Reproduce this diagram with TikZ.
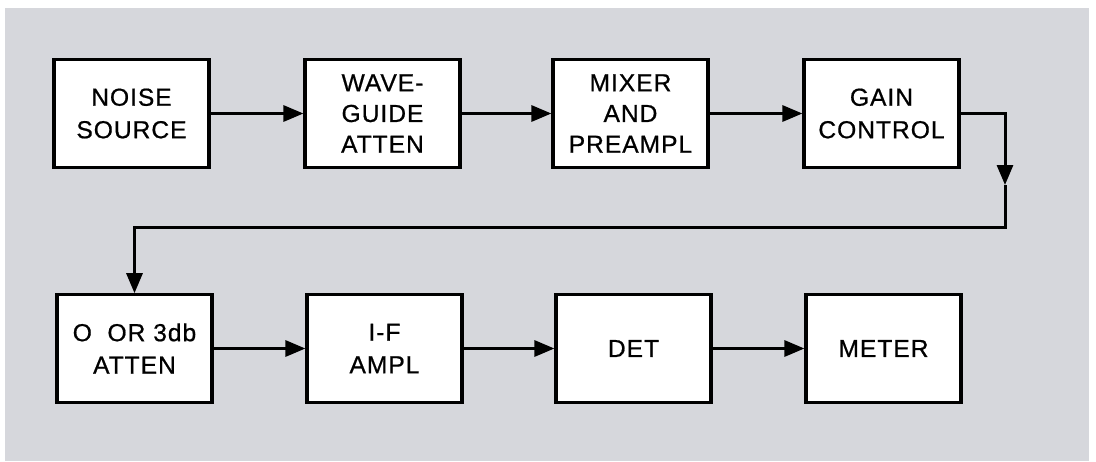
\documentclass[tikz,border=0pt]{standalone}
\usepackage{fontspec}
\setmainfont{Liberation Sans}
\newfontfamily\labelfont{Liberation Sans}[FakeBold=0.7,LetterSpace=4]
\usetikzlibrary{arrows.meta}
\definecolor{card}{RGB}{214,215,220}

\begin{document}
\begin{tikzpicture}[x=0.02cm,y=-0.02cm,
        block/.style={draw,line width=1.8pt,fill=white,minimum width=3.1cm,minimum height=2.15cm,
            align=center,font=\labelfont\fontsize{14}{17.5}\selectfont},
        flow/.style={line width=1.7pt,-{Triangle[length=0.4cm,width=0.32cm]}}]
        \useasboundingbox(0,0)rectangle(1096,461);
        \fill[card](5,8)rectangle(1089,461);
        % upper row
        \node[block](noise)at(131.5,113.5){NOISE\\[1pt]SOURCE};
        \node[block](wave)at(382.5,113.5){WAVE-\\GUIDE\\ATTEN};
        \node[block](mixer)at(630.5,113.5){MIXER\\AND\\PREAMPL};
        \node[block](gain)at(881.5,113.5){GAIN\\[1pt]CONTROL};
        % lower row
        \node[block](atten)at(134.5,348.5){O\ \ OR 3db\\[1pt]ATTEN};
        \node[block](ifampl)at(384.5,348.5){I-F\\[1pt]AMPL};
        \node[block](det)at(633.5,348.5){DET};
        \node[block](meter)at(883.5,348.5){METER};
        \draw[flow](noise)--(wave);
        \draw[flow](wave)--(mixer);
        \draw[flow](mixer)--(gain);
        \coordinate(tip)at(1005,185);
        \coordinate(back)at(1005,227);
        \draw[flow](gain.east)-|(tip);
        \draw[flow](tip)--(back)-|(atten.north);
        \draw[flow](atten)--(ifampl);
        \draw[flow](ifampl)--(det);
        \draw[flow](det)--(meter);
    \end{tikzpicture}
\end{document}
